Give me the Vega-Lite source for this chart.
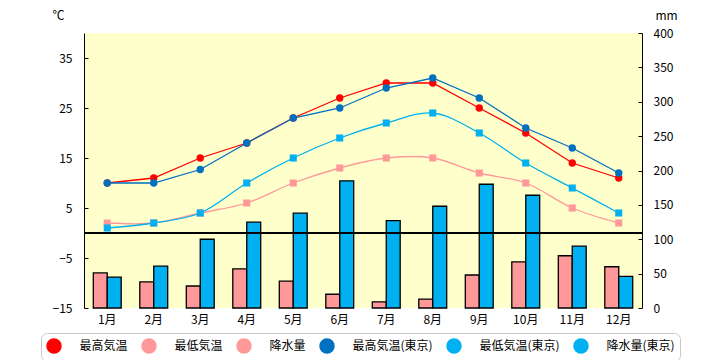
{
  "$schema": "https://vega.github.io/schema/vega-lite/v6.json",
  "width": 558,
  "height": 275,
  "autosize": {"type": "none"},
  "padding": {"left": 84, "top": 33, "right": 78, "bottom": 52},
  "config": {
    "view": {"fill": "#FFFFCC", "stroke": null},
    "font": "Noto Sans CJK JP",
    "axis": {"labelFont": "Noto Sans CJK JP", "titleFont": "Noto Sans CJK JP", "labelColor": "#000", "titleColor": "#000", "grid": false, "domainColor": "#000", "tickColor": "#000", "labelOverlap": false}
  },
  "data": {"values": [
      {"month": "1月", "series": "降水量", "value": 51},
      {"month": "2月", "series": "降水量", "value": 38},
      {"month": "3月", "series": "降水量", "value": 32},
      {"month": "4月", "series": "降水量", "value": 57},
      {"month": "5月", "series": "降水量", "value": 39},
      {"month": "6月", "series": "降水量", "value": 20},
      {"month": "7月", "series": "降水量", "value": 9},
      {"month": "8月", "series": "降水量", "value": 13},
      {"month": "9月", "series": "降水量", "value": 48},
      {"month": "10月", "series": "降水量", "value": 67},
      {"month": "11月", "series": "降水量", "value": 76},
      {"month": "12月", "series": "降水量", "value": 60},
      {"month": "1月", "series": "降水量(東京)", "value": 45},
      {"month": "2月", "series": "降水量(東京)", "value": 61},
      {"month": "3月", "series": "降水量(東京)", "value": 100},
      {"month": "4月", "series": "降水量(東京)", "value": 125},
      {"month": "5月", "series": "降水量(東京)", "value": 138},
      {"month": "6月", "series": "降水量(東京)", "value": 185},
      {"month": "7月", "series": "降水量(東京)", "value": 127},
      {"month": "8月", "series": "降水量(東京)", "value": 148},
      {"month": "9月", "series": "降水量(東京)", "value": 180},
      {"month": "10月", "series": "降水量(東京)", "value": 164},
      {"month": "11月", "series": "降水量(東京)", "value": 90},
      {"month": "12月", "series": "降水量(東京)", "value": 46},
      {"month": "1月", "series": "最高気温", "value": 10},
      {"month": "2月", "series": "最高気温", "value": 11},
      {"month": "3月", "series": "最高気温", "value": 15},
      {"month": "4月", "series": "最高気温", "value": 18},
      {"month": "5月", "series": "最高気温", "value": 23},
      {"month": "6月", "series": "最高気温", "value": 27},
      {"month": "7月", "series": "最高気温", "value": 30},
      {"month": "8月", "series": "最高気温", "value": 30},
      {"month": "9月", "series": "最高気温", "value": 25},
      {"month": "10月", "series": "最高気温", "value": 20},
      {"month": "11月", "series": "最高気温", "value": 14},
      {"month": "12月", "series": "最高気温", "value": 11},
      {"month": "1月", "series": "最低気温", "value": 2},
      {"month": "2月", "series": "最低気温", "value": 2},
      {"month": "3月", "series": "最低気温", "value": 4},
      {"month": "4月", "series": "最低気温", "value": 6},
      {"month": "5月", "series": "最低気温", "value": 10},
      {"month": "6月", "series": "最低気温", "value": 13},
      {"month": "7月", "series": "最低気温", "value": 15},
      {"month": "8月", "series": "最低気温", "value": 15},
      {"month": "9月", "series": "最低気温", "value": 12},
      {"month": "10月", "series": "最低気温", "value": 10},
      {"month": "11月", "series": "最低気温", "value": 5},
      {"month": "12月", "series": "最低気温", "value": 2},
      {"month": "1月", "series": "最高気温(東京)", "value": 10},
      {"month": "2月", "series": "最高気温(東京)", "value": 10},
      {"month": "3月", "series": "最高気温(東京)", "value": 12.7},
      {"month": "4月", "series": "最高気温(東京)", "value": 18},
      {"month": "5月", "series": "最高気温(東京)", "value": 23},
      {"month": "6月", "series": "最高気温(東京)", "value": 25},
      {"month": "7月", "series": "最高気温(東京)", "value": 29},
      {"month": "8月", "series": "最高気温(東京)", "value": 31},
      {"month": "9月", "series": "最高気温(東京)", "value": 27},
      {"month": "10月", "series": "最高気温(東京)", "value": 21},
      {"month": "11月", "series": "最高気温(東京)", "value": 17},
      {"month": "12月", "series": "最高気温(東京)", "value": 12},
      {"month": "1月", "series": "最低気温(東京)", "value": 1},
      {"month": "2月", "series": "最低気温(東京)", "value": 2},
      {"month": "3月", "series": "最低気温(東京)", "value": 4},
      {"month": "4月", "series": "最低気温(東京)", "value": 10},
      {"month": "5月", "series": "最低気温(東京)", "value": 15},
      {"month": "6月", "series": "最低気温(東京)", "value": 19},
      {"month": "7月", "series": "最低気温(東京)", "value": 22},
      {"month": "8月", "series": "最低気温(東京)", "value": 24},
      {"month": "9月", "series": "最低気温(東京)", "value": 20},
      {"month": "10月", "series": "最低気温(東京)", "value": 14},
      {"month": "11月", "series": "最低気温(東京)", "value": 9},
      {"month": "12月", "series": "最低気温(東京)", "value": 4}
  ]},
  "layer": [
    {
      "transform": [{"filter": {"field": "series", "oneOf": ["降水量", "降水量(東京)"]}}],
      "mark": {"type": "bar", "stroke": "#000", "strokeWidth": 1.3},
      "encoding": {
        "x": {
          "field": "month", "type": "nominal",
          "scale": {"domain": ["1月","2月","3月","4月","5月","6月","7月","8月","9月","10月","11月","12月"], "paddingInner": 0.4, "paddingOuter": 0.2},
          "axis": {"title": null, "labelAngle": 0, "domain": false, "ticks": false, "labelPadding": 6, "labelFontSize": 12}
        },
        "xOffset": {"field": "series", "type": "nominal", "scale": {"domain": ["降水量", "降水量(東京)"]}},
        "y": {
          "field": "value", "type": "quantitative",
          "scale": {"domain": [0, 400]},
          "axis": {"orient": "right", "values": [0,50,100,150,200,250,300,350,400], "labelOverlap": false, "title": "mm", "titleAngle": 0, "titleX": 24, "titleY": -18, "titleAlign": "center", "titleBaseline": "middle", "titleFontWeight": "normal", "titleFontSize": 12, "labelFontSize": 12, "tickSize": -4, "labelPadding": 15}
        },
        "color": {
          "field": "series", "type": "nominal",
          "scale": {"domain": ["最高気温","最低気温","降水量","最高気温(東京)","最低気温(東京)","降水量(東京)"], "range": ["#FF0000","#FF9999","#FF9999","#0070C0","#00B0F0","#00B0F0"]},
          "legend": {
            "orient": "none", "legendX": -43, "legendY": 300, "direction": "horizontal", "columns": 6, "title": null,
            "padding": 5, "strokeColor": "#C8C8C8", "cornerRadius": 6, "fillColor": "#FFFFFF",
            "symbolSize": 196, "symbolStrokeWidth": 1.5, "labelOffset": 17.5, "columnPadding": 11,
            "labelFont": "Noto Sans CJK JP", "labelFontSize": 12, "labelColor": "#000", "labelLimit": 0,
            "encode": {
              "legend": {"strokeWidth": {"value": 2}},
              "symbols": {
                "shape": {"signal": "(datum.value === '最高気温' || datum.value === '最高気温(東京)') ? 'M-0.6,0H3M0.63,0A0.57,0.57 0 1,0 1.77,0A0.57,0.57 0 1,0 0.63,0Z' : ((datum.value === '最低気温' || datum.value === '最低気温(東京)') ? 'M-0.6,0H3M0.7,-0.5H1.7V0.5H0.7Z' : 'M-0.6,-0.5H3V0.5H-0.6Z')"},
                "fill": {"signal": "scale('color', datum.value)"},
                "stroke": {"signal": "indexof(datum.value, '降水量') === 0 ? '#000000' : scale('color', datum.value)"},
                "strokeWidth": {"value": 1.5},
                "opacity": {"value": 1}
              }
            }
          }
        }
      }
    },
    {
      "layer": [
        {
          "mark": {"type": "rule", "color": "#000", "strokeWidth": 1},
          "encoding": {"y": {"datum": 0, "type": "quantitative", "scale": {"domain": [-15, 40]}}}
        },
        {
          "transform": [{"filter": {"field": "series", "oneOf": ["最高気温", "最高気温(東京)"]}}],
          "mark": {"type": "line", "strokeWidth": 1.3},
          "encoding": {
            "x": {"field": "month", "type": "nominal"},
            "y": {"field": "value", "type": "quantitative"},
            "color": {"field": "series", "type": "nominal"}
          }
        },
        {
          "transform": [{"filter": {"field": "series", "oneOf": ["最低気温", "最低気温(東京)"]}}],
          "mark": {"type": "line", "strokeWidth": 1.3, "interpolate": "catmull-rom"},
          "encoding": {
            "x": {"field": "month", "type": "nominal"},
            "y": {"field": "value", "type": "quantitative"},
            "color": {"field": "series", "type": "nominal"}
          }
        },
        {
          "transform": [{"filter": {"field": "series", "oneOf": ["最高気温", "最高気温(東京)"]}}],
          "mark": {"type": "point", "shape": "circle", "filled": true, "size": 55, "opacity": 1},
          "encoding": {
            "x": {"field": "month", "type": "nominal"},
            "y": {"field": "value", "type": "quantitative"},
            "color": {"field": "series", "type": "nominal"}
          }
        },
        {
          "transform": [{"filter": {"field": "series", "oneOf": ["最低気温", "最低気温(東京)"]}}],
          "mark": {"type": "point", "shape": "square", "filled": true, "size": 50, "opacity": 1},
          "encoding": {
            "x": {"field": "month", "type": "nominal"},
            "y": {
              "field": "value", "type": "quantitative",
              "axis": {"orient": "left", "values": [-15,-10,-5,0,5,10,15,20,25,30,35,40], "labelOverlap": false, "title": "℃", "titleAngle": 0, "titleX": -26, "titleY": -18, "titleAlign": "center", "titleBaseline": "middle", "titleFontWeight": "normal", "titleFontSize": 12, "labelFontSize": 12, "tickSize": -4, "labelPadding": 16}
            },
            "color": {"field": "series", "type": "nominal"}
          }
        }
      ]
    }
  ],
  "resolve": {"scale": {"y": "independent"}, "axis": {"y": "independent"}}
}
